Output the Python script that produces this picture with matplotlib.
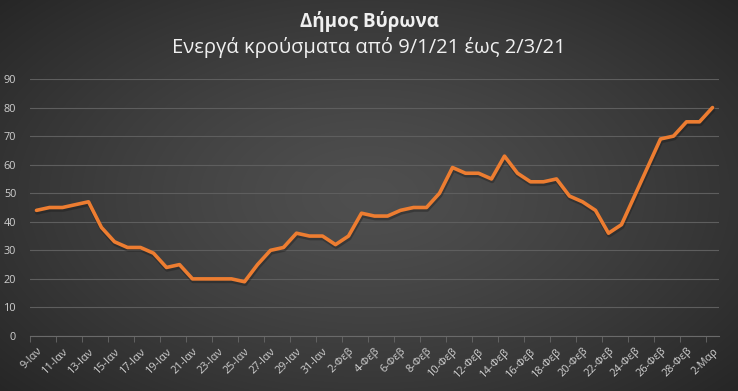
import numpy as np
import matplotlib
matplotlib.use("Agg")
import matplotlib.pyplot as plt
from matplotlib.transforms import ScaledTranslation

plt.rcParams['font.family'] = ['Open Sans', 'DejaVu Sans']

# data: active cases per day, 9 Jan 2021 .. 2 Mar 2021
days = [9, 10, 11, 12, 13, 14, 15, 16, 17, 18, 19, 20, 21, 22, 23, 24, 25, 26,
        27, 28, 29, 30, 31,
        1, 2, 3, 4, 5, 6, 7, 8, 9, 10, 11, 12, 13, 14, 15, 16, 17, 18, 19, 20,
        21, 22, 23, 24, 25, 26, 27, 28,
        1, 2]
months = ['Ιαν'] * 23 + ['Φεβ'] * 28 + ['Μαρ'] * 2
cases = [44, 45, 45, 46, 47, 38, 33, 31, 31, 29, 24, 25, 20, 20, 20, 20, 19, 25,
         30, 31, 36, 35, 35,
         32, 35, 43, 42, 42, 44, 45, 45, 50, 59, 57, 57, 55, 63, 57, 54, 54, 55,
         49, 47, 44, 36, 39, 49, 59, 69, 70, 75, 75,
         80]
labels = ['%d-%s' % (d, m) for d, m in zip(days, months)]

title = 'Δήμος Βύρωνα'
subtitle = 'Ενεργά κρούσματα από 9/1/21 έως 2/3/21'

fig = plt.figure(figsize=(7.38, 3.91), dpi=100)

# radial gradient background
bg = fig.add_axes([0, 0, 1, 1], zorder=-1)
yy, xx = np.mgrid[-1:1:391j, -1:1:738j]
r = np.sqrt(xx ** 2 + (yy * 0.9) ** 2) / np.sqrt(1 + 0.81)
shade = 0.31 - 0.16 * r ** 1.3
bg.imshow(np.dstack([shade] * 3), aspect='auto', extent=[0, 1, 0, 1])
bg.axis('off')

ax = fig.add_axes([30 / 738, 1 - 336 / 391, 689 / 738, 257 / 391])
ax.patch.set_alpha(0)
x = np.arange(len(cases))
# soft shadow under the line
shadow = ax.transData + ScaledTranslation(0.5 / 72, -1.5 / 72, fig.dpi_scale_trans)
ax.plot(x, cases, color='#151515', lw=3.2, alpha=0.35, zorder=2,
        solid_capstyle='round', solid_joinstyle='round', transform=shadow)
ax.plot(x, cases, color='#ed7d31', lw=2.6, zorder=3,
        solid_capstyle='round', solid_joinstyle='round')

ax.set_xlim(-0.5, len(cases) - 0.5)
ax.set_ylim(0, 90)
ax.set_yticks(range(0, 91, 10))
ax.grid(axis='y', color='#5e5e5e', lw=0.8)
ax.set_axisbelow(True)
for s in ['top', 'right', 'left']:
    ax.spines[s].set_visible(False)
ax.spines['bottom'].set_color('#6a6a6a')
ax.spines['bottom'].set_linewidth(0.8)

ax.set_xticks(x[::2])
ax.set_xticklabels(labels[::2], rotation=45, ha='right', rotation_mode='anchor')
ax.set_xticks(np.arange(-0.5, len(cases), 2), minor=True)
ax.tick_params(axis='x', which='major', length=0, pad=7, labelsize=7.8, colors='#d0d0d0')
ax.tick_params(axis='x', which='minor', length=4, color='#6a6a6a')
ax.tick_params(axis='y', length=0, pad=10, labelsize=7.8, colors='#d0d0d0')

fig.text(0.5, 1 - 22 / 391, title, ha='center', va='center', fontsize=13.5,
         fontweight='bold', color='#f0f0f0')
fig.text(0.5, 1 - 48 / 391, subtitle, ha='center', va='center', fontsize=14.5,
         color='#f0f0f0')

fig.savefig('out.png', dpi=100)
